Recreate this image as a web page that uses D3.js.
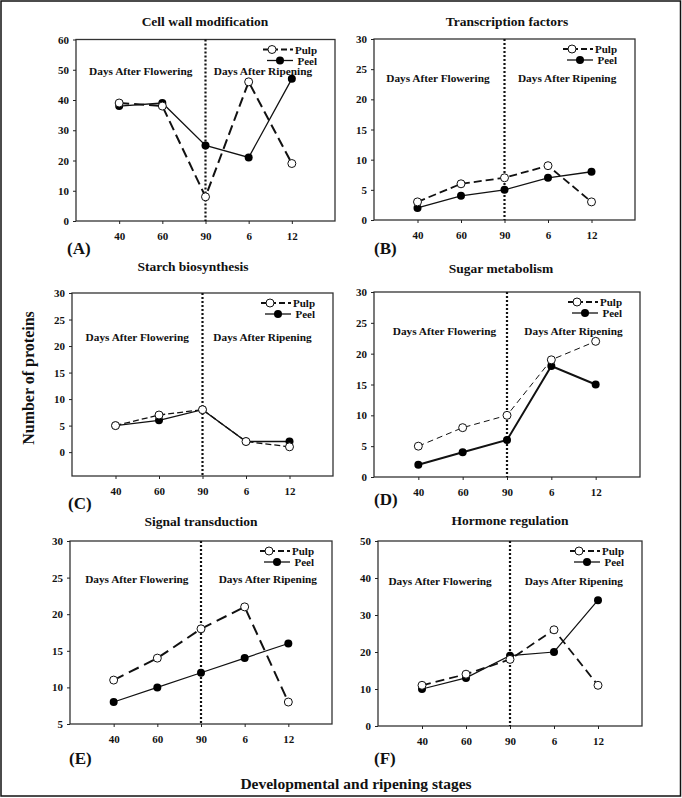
<!DOCTYPE html>
<html>
<head>
<meta charset="utf-8">
<script src="https://cdn.jsdelivr.net/npm/d3@7"></script>
<style>
  body { margin: 0; background: #fff; }
  svg text { font-family: "Liberation Serif", "Times New Roman", serif; font-weight: bold; fill: #111; }
  .axis path, .axis line { stroke: #222; }
</style>
</head>
<body>
<div id="chart"></div>
<script>
const stages = ["40", "60", "90", "6", "12"];
const panelTitles = ["Cell wall modification", "Transcription factors", "Starch biosynthesis",
    "Sugar metabolism", "Signal transduction", "Hormone regulation"];
const panelLetters = ["(A)", "(B)", "(C)", "(D)", "(E)", "(F)"];

const pulpCellWall = [39, 38, 8, 46, 19];
const peelCellWall = [38, 39, 25, 21, 47];
const pulpTranscription = [3, 6, 7, 9, 3];
const peelTranscription = [2, 4, 5, 7, 8];
const pulpStarch = [5, 7, 8, 2, 1];
const peelStarch = [5, 6, 8, 2, 2];
const pulpSugar = [5, 8, 10, 19, 22];
const peelSugar = [2, 4, 6, 18, 15];
const pulpSignal = [11, 14, 18, 21, 8];
const peelSignal = [8, 10, 12, 14, 16];
const pulpHormone = [11, 14, 18, 26, 11];
const peelHormone = [10, 13, 19, 20, 34];

const ticks0to60 = [0, 10, 20, 30, 40, 50, 60];
const ticks0to30 = [0, 5, 10, 15, 20, 25, 30];
const ticks5to30 = [5, 10, 15, 20, 25, 30];
const ticks0to50 = [0, 10, 20, 30, 40, 50];

const W = 682, H = 798;

// frame boxes, styles and label spots per panel
const panels = [
    { pulp: pulpCellWall, peel: peelCellWall, ticks: ticks0to60, ymin: 0, ymax: 60,
      box: [76, 335, 39.5, 221], titleX: 205, titleY: 26, lblY: 254, lblX: 67, daysY: 75, dafX: 0.5, darX: 3.33,
      pulpDash: "10,5", pulpW: 2, peelW: 1.3 },
    { pulp: pulpTranscription, peel: peelTranscription, ticks: ticks0to30, ymin: 0, ymax: 30,
      box: [374, 635, 39, 220], titleX: 507, titleY: 26, lblY: 254, lblX: 374, daysY: 82, dafX: 0.47, darX: 3.44,
      pulpDash: "8,4", pulpW: 1.8, peelW: 1.3 },
    { pulp: pulpStarch, peel: peelStarch, ticks: ticks0to30, ymin: -4.5, ymax: 30,
      box: [72, 333, 293, 476], titleX: 193, titleY: 271, lblY: 509, lblX: 68, daysY: 341, dafX: 0.5, darX: 3.38,
      pulpDash: "6,3", pulpW: 1.3, peelW: 1.3 },
    { pulp: pulpSugar, peel: peelSugar, ticks: ticks0to30, ymin: 0, ymax: 30,
      box: [374, 640, 292, 477], titleX: 501, titleY: 273, lblY: 505, lblX: 374, daysY: 335, dafX: 0.59, darX: 3.5,
      pulpDash: "6,4", pulpW: 1, peelW: 2 },
    { pulp: pulpSignal, peel: peelSignal, ticks: ticks5to30, ymin: 5, ymax: 30,
      box: [70, 332, 541, 724], titleX: 201, titleY: 526, lblY: 764, lblX: 69, daysY: 583, dafX: 0.53, darX: 3.53,
      pulpDash: "11,6", pulpW: 2, peelW: 1.2 },
    { pulp: pulpHormone, peel: peelHormone, ticks: ticks0to50, ymin: 0, ymax: 50,
      box: [378, 642, 541, 726], titleX: 510, titleY: 525, lblY: 764, lblX: 374, daysY: 585, dafX: 0.41, darX: 3.45,
      pulpDash: "9,5", pulpW: 1.8, peelW: 1.2 }
];

const svg = d3.select("#chart")
    .append("svg")
    .attr("width", W)
    .attr("height", H);

svg.append("rect")
    .attr("x", 1).attr("y", 1)
    .attr("width", W - 2.5).attr("height", H - 3)
    .attr("fill", "none")
    .attr("stroke", "#111")
    .attr("stroke-width", 1.5);

panels.forEach((p, i) => {
    const [left, right, top, bottom] = p.box;
    const g = svg.append("g");

    const x = d3.scalePoint()
        .domain(stages)
        .range([left, right])
        .padding(1);

    const y = d3.scaleLinear()
        .domain([p.ymin, p.ymax])
        .range([bottom, top]);

    // plot frame
    g.append("rect")
        .attr("x", left).attr("y", top)
        .attr("width", right - left).attr("height", bottom - top)
        .attr("fill", "none")
        .attr("stroke", "#333")
        .attr("stroke-width", 1.3);

    g.append("g")
        .attr("class", "axis")
        .attr("transform", `translate(${left},0)`)
        .call(d3.axisLeft(y).tickValues(p.ticks).tickSize(3).tickPadding(4))
        .call(a => a.select(".domain").remove())
        .selectAll("text")
        .style("font-size", "11px");

    g.append("g")
        .attr("class", "axis")
        .attr("transform", `translate(0,${bottom})`)
        .call(d3.axisBottom(x).tickSize(3).tickPadding(8))
        .call(a => a.select(".domain").remove())
        .selectAll("text")
        .style("font-size", "11px");

    // divider between flowering and ripening
    g.append("line")
        .attr("x1", x("90")).attr("x2", x("90"))
        .attr("y1", top).attr("y2", bottom)
        .attr("stroke", "#111")
        .attr("stroke-width", 2.2)
        .attr("stroke-dasharray", "2,2");

    g.append("text")
        .attr("x", p.titleX).attr("y", p.titleY)
        .attr("text-anchor", "middle")
        .style("font-size", "13.5px")
        .text(panelTitles[i]);

    g.append("text")
        .attr("x", p.lblX).attr("y", p.lblY)
        .style("font-size", "17px")
        .text(panelLetters[i]);

    const step = x.step();
    g.append("text")
        .attr("x", x("40") + p.dafX * step).attr("y", p.daysY)
        .attr("text-anchor", "middle")
        .style("font-size", "11.3px")
        .text("Days After Flowering");
    g.append("text")
        .attr("x", x("40") + p.darX * step).attr("y", p.daysY)
        .attr("text-anchor", "middle")
        .style("font-size", "11.3px")
        .text("Days After Ripening");

    const line = d3.line()
        .x((d, j) => x(stages[j]))
        .y(d => y(d));

    g.append("path")
        .datum(p.peel)
        .attr("d", line)
        .attr("fill", "none")
        .attr("stroke", "#111")
        .attr("stroke-width", p.peelW);

    g.append("path")
        .datum(p.pulp)
        .attr("d", line)
        .attr("fill", "none")
        .attr("stroke", "#111")
        .attr("stroke-width", p.pulpW)
        .attr("stroke-dasharray", p.pulpDash);

    g.selectAll(".peel-dot")
        .data(p.peel)
        .enter()
        .append("circle")
        .attr("cx", (d, j) => x(stages[j]))
        .attr("cy", d => y(d))
        .attr("r", 4)
        .attr("fill", "#000");

    g.selectAll(".pulp-dot")
        .data(p.pulp)
        .enter()
        .append("circle")
        .attr("cx", (d, j) => x(stages[j]))
        .attr("cy", d => y(d))
        .attr("r", 4)
        .attr("fill", "#fff")
        .attr("stroke", "#111")
        .attr("stroke-width", 1);

    // legend
    const ly1 = top + 10, ly2 = top + 21;
    g.append("line")
        .attr("x1", right - 72).attr("x2", right - 42)
        .attr("y1", ly1).attr("y2", ly1)
        .attr("stroke", "#111").attr("stroke-width", 1.8)
        .attr("stroke-dasharray", "6,3");
    g.append("circle")
        .attr("cx", right - 63).attr("cy", ly1).attr("r", 4)
        .attr("fill", "#fff").attr("stroke", "#111");
    g.append("text")
        .attr("x", right - 18).attr("y", ly1 + 4)
        .attr("text-anchor", "end")
        .style("font-size", "11px")
        .text("Pulp");

    g.append("line")
        .attr("x1", right - 68).attr("x2", right - 42)
        .attr("y1", ly2).attr("y2", ly2)
        .attr("stroke", "#111").attr("stroke-width", 1.3);
    g.append("circle")
        .attr("cx", right - 55).attr("cy", ly2).attr("r", 4)
        .attr("fill", "#000");
    g.append("text")
        .attr("x", right - 18).attr("y", ly2 + 4)
        .attr("text-anchor", "end")
        .style("font-size", "11px")
        .text("Peel");
});

svg.append("text")
    .attr("transform", "translate(34,378) rotate(-90)")
    .attr("text-anchor", "middle")
    .style("font-size", "16px")
    .text("Number of proteins");

svg.append("text")
    .attr("x", 356).attr("y", 789)
    .attr("text-anchor", "middle")
    .style("font-size", "15.5px")
    .text("Developmental and ripening stages");
</script>
</body>
</html>
